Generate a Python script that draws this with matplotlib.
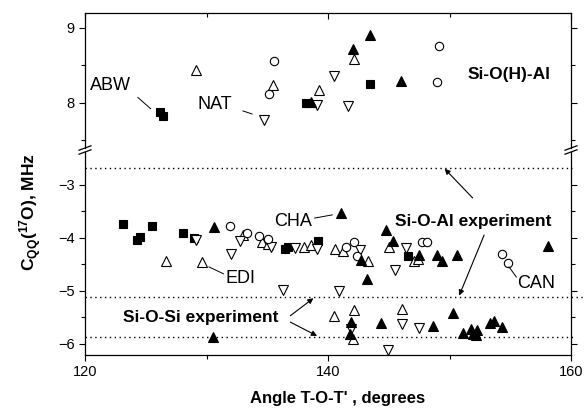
import matplotlib
matplotlib.use("Agg")
import matplotlib.pyplot as plt
from matplotlib.lines import Line2D

plt.rcParams['font.family'] = ['Liberation Sans', 'DejaVu Sans']
plt.rcParams['mathtext.fontset'] = 'custom'
plt.rcParams['mathtext.rm'] = 'Liberation Sans'
plt.rcParams['mathtext.bf'] = 'Liberation Sans:bold'

# ---- data (angle in degrees, C_QQ in MHz) ----
# upper panel: Si-O(H)-Al
sq_top_x = [126.2, 126.45, 138.15, 143.45]
sq_top_y = [7.87, 7.82, 7.99, 8.25]
trf_top_x = [138.6, 142.05, 143.45, 145.98]
trf_top_y = [8.01, 8.72, 8.90, 8.29]
tro_top_x = [129.1, 135.48, 139.3, 142.13]
tro_top_y = [8.43, 8.24, 8.17, 8.58]
trd_top_x = [134.7, 139.1, 140.48, 141.63]
trd_top_y = [7.77, 7.97, 8.36, 7.95]
circ_top_x = [135.53, 135.12, 149.14, 148.95]
circ_top_y = [8.55, 8.12, 8.75, 8.28]

# lower panel: Si-O-Al and Si-O-Si
sq_bot_x = [123.1, 124.3, 124.5, 125.5, 128.1, 129.0, 136.5, 136.7, 139.16, 146.6]
sq_bot_y = [-3.74, -4.04, -3.99, -3.78, -3.92, -4.0, -4.22, -4.18, -4.06, -4.34]
trf_bot_x = [130.5, 130.64, 141.03, 142.75, 143.2, 144.8, 145.35, 147.45, 148.95,
             149.35, 150.6, 158.08, 141.86, 141.8, 144.33, 148.66, 150.3, 151.07,
             151.75, 151.9, 152.3, 152.2, 153.35, 153.7, 154.36]
trf_bot_y = [-5.87, -3.79, -3.53, -4.42, -4.77, -3.85, -4.06, -4.32, -4.33,
             -4.44, -4.33, -4.15, -5.59, -5.81, -5.61, -5.66, -5.42, -5.80,
             -5.72, -5.82, -5.74, -5.83, -5.61, -5.57, -5.69]
tro_bot_x = [126.68, 129.62, 133.0, 134.57, 135.1, 138.0, 138.6, 140.6, 141.25,
             143.3, 145.0, 147.1, 147.4, 140.48, 142.13, 142.05, 146.06]
tro_bot_y = [-4.44, -4.46, -3.95, -4.09, -4.11, -4.17, -4.14, -4.22, -4.25,
             -4.43, -4.17, -4.44, -4.40, -5.47, -5.36, -5.91, -5.34]
trd_bot_x = [129.1, 132.05, 132.75, 135.3, 137.25, 139.1, 136.3, 140.9, 142.65,
             145.5, 146.45, 141.86, 146.1, 147.5, 144.9]
trd_bot_y = [-4.05, -4.31, -4.07, -4.18, -4.2, -4.22, -4.99, -5.0, -4.23,
             -4.6, -4.2, -5.72, -5.62, -5.71, -6.11]
circ_bot_x = [131.9, 133.35, 134.35, 135.05, 141.45, 142.1, 142.35, 147.7, 148.15,
              154.3, 154.85]
circ_bot_y = [-3.78, -3.91, -3.97, -4.02, -4.18, -4.08, -4.35, -4.09, -4.08,
              -4.30, -4.47]

# experimental reference levels (dotted lines)
sioal_levels = [-2.68, -5.11]
siosi_levels = [-5.11, -5.87]

W, H = 585, 412
fig = plt.figure(figsize=(W / 100, H / 100), dpi=100)

def fx(px):
    return px / W

def fy(py):
    return 1 - py / H

left, right = 85, 571
ax_t = fig.add_axes([fx(left), fy(148), fx(right) - fx(left), fy(13.3) - fy(148)])
ax_b = fig.add_axes([fx(left), fy(355), fx(right) - fx(left), fy(152) - fy(355)])

mk = dict(linestyle='none', color='k', mew=0.8)
for ax, sets in [
    (ax_t, [(sq_top_x, sq_top_y), (trf_top_x, trf_top_y), (tro_top_x, tro_top_y),
            (trd_top_x, trd_top_y), (circ_top_x, circ_top_y)]),
    (ax_b, [(sq_bot_x, sq_bot_y), (trf_bot_x, trf_bot_y), (tro_bot_x, tro_bot_y),
            (trd_bot_x, trd_bot_y), (circ_bot_x, circ_bot_y)]),
]:
    (sx, sy), (tfx, tfy), (ox, oy), (dx, dy), (cx, cy) = sets
    ax.plot(sx, sy, marker='s', ms=5.5, mfc='k', **mk)
    ax.plot(ox, oy, marker='^', ms=6.5, mfc='white', **mk)
    ax.plot(dx, dy, marker='v', ms=6.5, mfc='white', **mk)
    ax.plot(cx, cy, marker='o', ms=6, mfc='white', **mk)
    ax.plot(tfx, tfy, marker='^', ms=6.5, mfc='k', **mk)

for ax in (ax_t, ax_b):
    ax.set_xlim(120, 160)
    for s in ax.spines.values():
        s.set_linewidth(0.9)
    ax.tick_params(which='both', labelsize=10.5, width=0.8, direction='out',
                   right=True, top=True)
    ax.tick_params(which='major', length=4)
    ax.tick_params(which='minor', length=3)
    ax.set_xticks([120, 140, 160])
    ax.set_xticks([130, 150], minor=True)
    ax.set_xticklabels([])
    ax.set_xticklabels([], minor=True)

ax_t.set_ylim(7.396, 9.192)
ax_t.set_yticks([8, 9])
ax_t.set_yticks([7.5, 8.5], minor=True)
ax_t.spines['bottom'].set_visible(False)
ax_t.tick_params(which='both', bottom=False)

ax_b.set_ylim(-6.21, -2.385)
ax_b.set_yticks([-6, -5, -4, -3])
ax_b.set_yticks([-5.5, -4.5, -3.5], minor=True)
ax_b.spines['top'].set_visible(False)
ax_b.tick_params(which='both', top=False)
ax_b.set_xticklabels(['120', '140', '160'])

# right and top ticks point inward, left and bottom outward
for ax in (ax_t, ax_b):
    for t in ax.yaxis.get_major_ticks() + ax.yaxis.get_minor_ticks():
        t.tick2line.set_marker(1)
for t in ax_t.xaxis.get_major_ticks() + ax_t.xaxis.get_minor_ticks():
    t.tick2line.set_marker(3)

# dotted experimental lines
dots = dict(color='k', lw=1.0, linestyle=(0, (1, 2.5)), clip_on=False)
ax_b.plot([120, 160.1], [sioal_levels[0]] * 2, **dots)
ax_b.plot([120, 161.1], [siosi_levels[0]] * 2, **dots)
ax_b.plot([120, 160.2], [siosi_levels[1]] * 2, **dots)

# axis break marks
for xb in (left, right):
    for yb in (148, 152):
        fig.add_artist(Line2D([fx(xb - 6), fx(xb + 6)], [fy(yb + 2.2), fy(yb - 2.2)],
                              color='k', lw=0.9))

# labels
lbl = dict(fontsize=13)
ax_t.text(122.1, 8.23, 'ABW', ha='center', va='center', **lbl)
ax_t.plot([124.35, 125.4], [8.07, 7.92], color='k', lw=0.7)
ax_t.text(130.7, 7.98, 'NAT', ha='center', va='center', **lbl)
ax_t.plot([133.0, 133.75], [7.89, 7.85], color='k', lw=0.7)
ax_t.text(158.3, 8.37, 'Si-O(H)-Al', ha='right', va='center', fontsize=12.5,
          fontweight='bold')

ax_b.text(137.1, -3.70, 'CHA', ha='center', va='center', **lbl)
ax_b.plot([138.9, 140.35], [-3.63, -3.57], color='k', lw=0.7)
ax_b.text(132.8, -4.77, 'EDI', ha='center', va='center', **lbl)
ax_b.plot([130.2, 131.4], [-4.55, -4.68], color='k', lw=0.7)
ax_b.text(157.1, -4.86, 'CAN', ha='center', va='center', **lbl)
ax_b.plot([154.9, 155.5], [-4.55, -4.74], color='k', lw=0.7)

arr = dict(arrowstyle='-|>', lw=0.8, color='k', mutation_scale=8,
           shrinkA=0, shrinkB=0)
ax_b.text(151.96, -3.70, 'Si-O-Al experiment', ha='center', va='center',
          fontsize=12.5, fontweight='bold')
ax_b.annotate('', xy=(149.6, -2.70), xytext=(151.9, -3.25), arrowprops=arr)
ax_b.annotate('', xy=(150.8, -5.09), xytext=(152.85, -3.95), arrowprops=arr)
ax_b.text(129.5, -5.50, 'Si-O-Si experiment', ha='center', va='center',
          fontsize=12.5, fontweight='bold')
ax_b.annotate('', xy=(138.8, -5.14), xytext=(136.9, -5.47), arrowprops=arr)
ax_b.annotate('', xy=(139.1, -5.85), xytext=(136.9, -5.59), arrowprops=arr)

fig.text(fx(338), fy(399), "Angle T-O-T' , degrees", ha='center', va='center',
         fontsize=12, fontweight='bold')
fig.text(fx(31), fy(212), r'$\mathbf{C_{QQ}(^{17}O)}$, MHz', ha='center',
         va='center', rotation=90, fontsize=12.5, fontweight='bold')

fig.savefig('out.png', dpi=100)
